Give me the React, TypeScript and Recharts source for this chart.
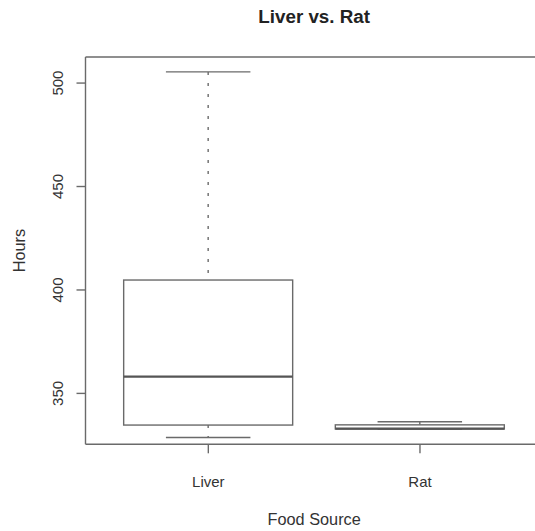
import { BarChart, Bar, XAxis, YAxis, Label, ReferenceLine } from "recharts";

// Five-number summaries per food source (hours)
const sources = ["Liver", "Rat"];
const whiskerLow = [328.7, 332.6];
const lowerQuartile = [334.7, 332.8];
const medians = [358.1, 333.0];
const upperQuartile = [404.8, 334.8];
const whiskerHigh = [505.4, 336.3];

const hourTicks = [350, 400, 450, 500];
const hourDomain = [325.4, 512.6];

const FONT = '"Liberation Sans", Arial, Helvetica, sans-serif';
const INK = "#333";
const LINE = "#6a6a6a";

const data = sources.map((name, i) => ({
  name,
  box: [lowerQuartile[i], upperQuartile[i]],
  lo: whiskerLow[i],
  q1: lowerQuartile[i],
  med: medians[i],
  q3: upperQuartile[i],
  hi: whiskerHigh[i],
}));

// Draws a whole box-and-whisker from the bar that spans Q1..Q3;
// the other stats are placed with the same linear y scale.
function BoxShape(props: any) {
  const { x, y, width, height, payload } = props;
  const top = Math.min(y, y + height);
  const h = Math.abs(height);
  const perUnit = h / (payload.q3 - payload.q1);
  const toY = (v: number) => top + (payload.q3 - v) * perUnit;
  const cx = x + width / 2;
  const capHalf = width / 4;
  const yHi = toY(payload.hi);
  const yLo = toY(payload.lo);
  const yMed = toY(payload.med);
  return (
    <g>
      <line x1={cx} x2={cx} y1={yHi} y2={top} stroke={LINE} strokeWidth={1.4} strokeDasharray="3 8" />
      <line x1={cx} x2={cx} y1={top + h} y2={yLo} stroke={LINE} strokeWidth={1.4} strokeDasharray="3 8" />
      <line x1={cx - capHalf} x2={cx + capHalf} y1={yHi} y2={yHi} stroke={LINE} strokeWidth={1.4} />
      <line x1={cx - capHalf} x2={cx + capHalf} y1={yLo} y2={yLo} stroke={LINE} strokeWidth={1.4} />
      <rect x={x} y={top} width={width} height={h} fill="#fff" stroke={LINE} strokeWidth={1.4} />
      <line x1={x} x2={x + width} y1={yMed} y2={yMed} stroke="#555" strokeWidth={2.4} />
    </g>
  );
}

function HoursTick(props: any) {
  const { x, y, payload } = props;
  return (
    <text
      x={x}
      y={y}
      transform={`rotate(-90, ${x}, ${y})`}
      textAnchor="middle"
      fill={INK}
      fontSize={15}
      fontFamily={FONT}
    >
      {payload.value}
    </text>
  );
}

export default function App() {
  return (
    <div
      style={{
        position: "absolute",
        left: 0,
        top: 0,
        width: 535,
        height: 531,
        overflow: "hidden",
        background: "#fff",
      }}
    >
      <BarChart
        width={560}
        height={531}
        data={data}
        barCategoryGap="10%"
        margin={{ top: 57, right: 17.2, bottom: 56.7, left: 0 }}
      >
        <XAxis
          dataKey="name"
          padding={{ left: 17, right: 17 }}
          height={30}
          tickSize={9}
          tickMargin={23}
          axisLine={{ stroke: LINE, strokeWidth: 1.4 }}
          tickLine={{ stroke: LINE, strokeWidth: 1.4 }}
          tick={{ fill: INK, fontSize: 15, fontFamily: FONT }}
        >
          <Label
            content={({ viewBox }: any) => (
              <text
                x={viewBox.x + viewBox.width / 2}
                y={viewBox.y + 81}
                textAnchor="middle"
                fill={INK}
                fontSize={16.3}
                fontFamily={FONT}
              >
                Food Source
              </text>
            )}
          />
        </XAxis>
        <YAxis
          type="number"
          domain={hourDomain}
          ticks={hourTicks}
          allowDataOverflow
          width={85.5}
          tickSize={9}
          tickMargin={13}
          axisLine={{ stroke: LINE, strokeWidth: 1.4 }}
          tickLine={{ stroke: LINE, strokeWidth: 1.4 }}
          tick={<HoursTick />}
        >
          <Label
            content={({ viewBox }: any) => {
              const lx = viewBox.x + 25;
              const ly = viewBox.y + viewBox.height / 2;
              return (
                <text
                  x={lx}
                  y={ly}
                  transform={`rotate(-90, ${lx}, ${ly})`}
                  textAnchor="middle"
                  fill={INK}
                  fontSize={16.3}
                  fontFamily={FONT}
                >
                  Hours
                </text>
              );
            }}
          />
        </YAxis>
        {/* top edge of the plot frame, carrying the main title */}
        <ReferenceLine
          y={hourDomain[1]}
          stroke={LINE}
          strokeWidth={1.4}
          label={
            <Label
              content={({ viewBox }: any) => (
                <text
                  x={viewBox.x + viewBox.width / 2}
                  y={viewBox.y - 34}
                  textAnchor="middle"
                  fill="#222"
                  fontSize={18.8}
                  fontWeight="bold"
                  fontFamily={FONT}
                >
                  Liver vs. Rat
                </text>
              )}
            />
          }
        />
        <Bar dataKey="box" shape={<BoxShape />} isAnimationActive={false} />
      </BarChart>
    </div>
  );
}
